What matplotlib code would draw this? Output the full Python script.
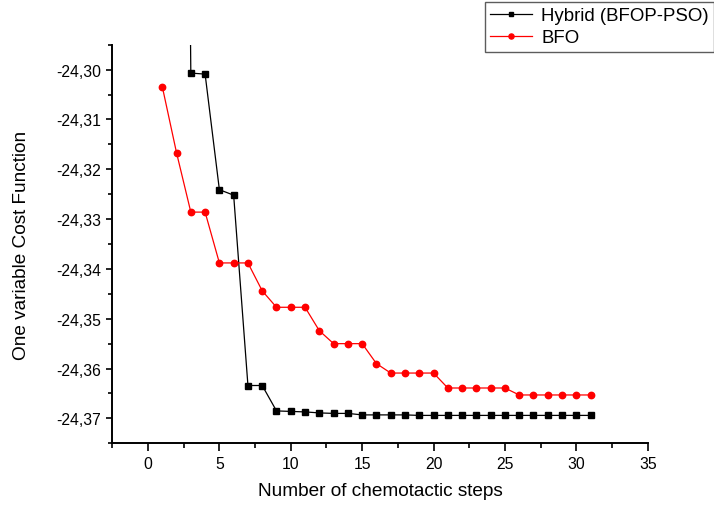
import matplotlib
matplotlib.use("Agg")
import matplotlib.pyplot as plt
from matplotlib.ticker import MultipleLocator, FuncFormatter

plt.rcParams['font.family'] = ['Liberation Sans', 'DejaVu Sans']

# Data
steps_hybrid = [2, 3, 4, 5, 6, 7, 8, 9, 10, 11, 12, 13, 14, 15, 16, 17, 18, 19, 20,
                21, 22, 23, 24, 25, 26, 27, 28, 29, 30, 31]
cost_hybrid = [-24.0, -24.3007, -24.3009, -24.3241, -24.3252, -24.3634, -24.3634,
               -24.3685, -24.3686, -24.3687, -24.3689, -24.3690, -24.3690, -24.3693,
               -24.3693, -24.3693, -24.3693, -24.3694, -24.3694, -24.3694, -24.3694,
               -24.3694, -24.3694, -24.3694, -24.3694, -24.3694, -24.3694, -24.3694,
               -24.3694, -24.3694]

steps_bfo = list(range(1, 32))
cost_bfo = [-24.3034, -24.3167, -24.3286, -24.3286, -24.3388, -24.3388, -24.3388,
            -24.3444, -24.3477, -24.3477, -24.3477, -24.3524, -24.3550, -24.3550,
            -24.3550, -24.3590, -24.3609, -24.3609, -24.3609, -24.3609, -24.3639,
            -24.3639, -24.3639, -24.3639, -24.3639, -24.3653, -24.3653, -24.3653,
            -24.3653, -24.3653, -24.3653]

label_hybrid = "Hybrid (BFOP-PSO)"
label_bfo = "BFO"
xlabel = "Number of chemotactic steps"
ylabel = "One variable Cost Function"

W, H = 714, 506
fig = plt.figure(figsize=(W / 100, H / 100), dpi=100)
ax = fig.add_axes([112.3 / W, 1 - 444.3 / H, (647.7 - 112.3) / W, (444.3 - 45.7) / H])

ax.plot(steps_hybrid, cost_hybrid, color='black', lw=0.9, marker='s', ms=4.2,
        mec='black', mfc='black', label=label_hybrid)
ax.plot(steps_bfo, cost_bfo, color='red', lw=0.9, marker='o', ms=4.6,
        mec='red', mfc='red', label=label_bfo)

ax.set_xlim(-2.5, 35)
ax.set_ylim(-24.375, -24.295)

ax.xaxis.set_major_locator(MultipleLocator(5))
ax.xaxis.set_minor_locator(MultipleLocator(2.5))
ax.yaxis.set_major_locator(MultipleLocator(0.01))
ax.yaxis.set_minor_locator(MultipleLocator(0.005))
ax.yaxis.set_major_formatter(FuncFormatter(lambda v, p: f"{v:.2f}".replace('.', ',')))
ax.xaxis.set_major_formatter(FuncFormatter(lambda v, p: f"{v:g}"))

for s in ('top', 'right'):
    ax.spines[s].set_visible(False)
for s in ('left', 'bottom'):
    ax.spines[s].set_linewidth(1.4)

ax.tick_params(axis='x', which='major', direction='out', length=6, width=1.2,
               labelsize=11.3, pad=3.5)
ax.tick_params(axis='x', which='minor', direction='out', length=3.5, width=1.2)
ax.tick_params(axis='y', which='major', direction='out', length=4.5, width=1.2,
               labelsize=11.3, pad=3.5)
ax.tick_params(axis='y', which='minor', direction='out', length=3, width=1.2)

ax.set_xlabel(xlabel, fontsize=13.7)
ax.xaxis.set_label_coords(0.5, -0.097)
ax.set_ylabel(ylabel, fontsize=13.7, va='center')
ax.yaxis.set_label_coords(-0.1705, 0.5)

leg = fig.legend(loc='upper left', bbox_to_anchor=(485 / W, 1 - 3 / H),
                 bbox_transform=fig.transFigure, fontsize=13.4, numpoints=1,
                 frameon=True, fancybox=False, edgecolor='#333333',
                 handlelength=2.25, handletextpad=0.5, borderpad=0.28,
                 labelspacing=0.28, borderaxespad=0, markerscale=0.8)
leg.get_frame().set_linewidth(1.0)

fig.savefig("out.png", dpi=100)
